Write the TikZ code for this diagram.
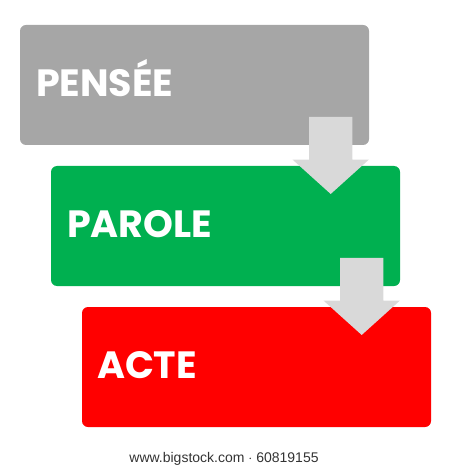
\documentclass[tikz,border=0pt]{standalone}
\usepackage{fontspec}
\setmainfont{Poppins}
\newfontfamily\footfont{Liberation Sans}
\usepackage{tikz}
\usetikzlibrary{calc,shapes.arrows,positioning}
\definecolor{penseegray}{HTML}{A6A6A6}
\definecolor{parolegreen}{HTML}{00B050}
\definecolor{actered}{HTML}{FF0000}
\definecolor{arrowgray}{HTML}{D9D9D9}
\tikzset{
   stagebox/.style={rounded corners=6pt, inner sep=0pt, minimum width=349pt, minimum height=120pt},
   stagelabel/.style={anchor=base west, inner sep=0pt, text=white, font=\fontsize{38}{38}\selectfont\bfseries},
   downarrow/.style={single arrow, shape border rotate=270, fill=arrowgray, inner sep=21.5pt,
                     minimum height=77pt, minimum width=76pt, single arrow head extend=16.5pt,
                     single arrow tip angle=96}
}

\begin{document}
\begin{tikzpicture}[x=1pt,y=-1pt]
\useasboundingbox (0,0) rectangle (450,470);
%
\node[stagebox,fill=penseegray]  (pensee) at (194.5, 85)                {};
\node[stagebox,fill=parolegreen] (parole) at ($ (pensee) + (31, 141) $) {};
\node[stagebox,fill=actered]     (acte)   at ($ (parole) + (31, 141) $) {};
%
\node[stagelabel] (penseetxt) at ($ (pensee.north west) + (16, 72) $) {PENSÉE};
\node[stagelabel] (paroletxt) at ($ (parole.north west) + (16, 72) $) {PAROLE};
\node[stagelabel] (actetxt)   at ($ (acte.north west) + (15, 72) $)   {ACTE};
%
\node[downarrow] (a1) at ($ (pensee.south east) + (-38.5, 0.5) $) {};
\node[downarrow] (a2) at ($ (parole.south east) + (-38.5, 0.5) $) {};
%
\node[font=\footfont\fontsize{14}{14}\selectfont, text=black!80] (foot) at (224, 459) {www.bigstock.com $\cdot$ 60819155};
\end{tikzpicture}
\end{document}
